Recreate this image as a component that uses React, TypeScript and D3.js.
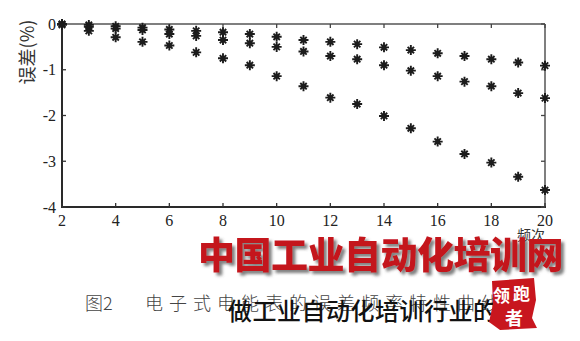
import React from "react";
import * as d3 from "d3";

const harmonics = [2, 3, 4, 5, 6, 7, 8, 9, 10, 11, 12, 13, 14, 15, 16, 17, 18, 19, 20];
const seriesA = [0, -0.02, -0.05, -0.08, -0.12, -0.15, -0.18, -0.22, -0.28, -0.35, -0.39, -0.44, -0.51, -0.57, -0.64, -0.7, -0.77, -0.84, -0.91];
const seriesB = [0, -0.06, -0.1, -0.13, -0.22, -0.26, -0.35, -0.42, -0.5, -0.6, -0.7, -0.77, -0.9, -1.02, -1.14, -1.26, -1.36, -1.51, -1.62];
const seriesC = [-0.02, -0.15, -0.29, -0.39, -0.47, -0.62, -0.75, -0.9, -1.14, -1.36, -1.61, -1.75, -2.01, -2.28, -2.57, -2.84, -3.03, -3.34, -3.63];
const xTicks = [2, 4, 6, 8, 10, 12, 14, 16, 18, 20];
const yTicks = [0, -1, -2, -3, -4];
const yLabel = "误差(%)";
const xLabel = "频次";
const caption1 = "图2";
const caption2 = "电子式电能表的误差频率特性曲线";
const watermark = "中国工业自动化培训网";
const slogan = "做工业自动化培训行业的";

const W = 580, H = 341;
const x = d3.scaleLinear().domain([2, 20]).range([62, 545]);
const y = d3.scaleLinear().domain([-4, 0]).range([207, 24]);

function Star({ cx, cy }: { cx: number; cy: number }) {
  const a = 5, b = 3.2;
  const d = `M${cx - a},${cy}L${cx + a},${cy}M${cx},${cy - a}L${cx},${cy + a}M${cx - b},${cy - b}L${cx + b},${cy + b}M${cx - b},${cy + b}L${cx + b},${cy - b}`;
  return (
    <g>
      <path d={d} stroke="#1c1c1c" strokeWidth={1.9} fill="none" />
      <circle cx={cx} cy={cy} r={2.2} fill="#1c1c1c" />
    </g>
  );
}

export default function App() {
  const all = [seriesA, seriesB, seriesC];
  const [x0, x1] = x.range();
  const [yb, yt] = y.range();
  return (
    <svg width={W} height={H} style={{ position: "absolute", left: 0, top: 0, background: "#fff" }}>
      <defs>
        <filter id="sh" x="-10%" y="-10%" width="130%" height="140%">
          <feDropShadow dx="3" dy="3" stdDeviation="1.6" floodColor="#555" floodOpacity="0.75" />
        </filter>
      </defs>
      <rect width={W} height={H} fill="#fff" />
      {/* frame */}
      <line x1={x0} x2={x1} y1={yt} y2={yt} stroke="#555" strokeWidth={1.5} />
      <line x1={x1} x2={x1} y1={yt} y2={yb} stroke="#555" strokeWidth={1.5} />
      <line x1={x0} x2={x0} y1={yt - 1} y2={yb + 1} stroke="#2a2a2a" strokeWidth={2} />
      <line x1={x0 - 1} x2={x1 + 1} y1={yb} y2={yb} stroke="#2a2a2a" strokeWidth={2} />
      {xTicks.map((t) => (
        <g key={"xt" + t}>
          <line x1={x(t)} x2={x(t)} y1={yb} y2={yb - 4} stroke="#333" strokeWidth={1.3} />
          <line x1={x(t)} x2={x(t)} y1={yt} y2={yt + 4} stroke="#444" strokeWidth={1.3} />
          <text x={x(t)} y={226} textAnchor="middle" fontFamily="Liberation Serif" fontSize={16} fill="#222">{t}</text>
        </g>
      ))}
      {yTicks.map((t) => (
        <g key={"yt" + t}>
          <line x1={x0} x2={x0 + 4} y1={y(t)} y2={y(t)} stroke="#333" strokeWidth={1.3} />
          <line x1={x1} x2={x1 - 4} y1={y(t)} y2={y(t)} stroke="#444" strokeWidth={1.3} />
          <text x={56} y={y(t)} dy="0.35em" textAnchor="end" fontFamily="Liberation Serif" fontSize={16} fill="#222">{t}</text>
        </g>
      ))}
      <text transform="translate(34,52) rotate(-90)" textAnchor="middle" fontFamily="Noto Sans CJK SC" fontSize={18} fill="#333">{yLabel}</text>
      <text x={531} y={240} textAnchor="middle" fontFamily="Noto Sans CJK SC" fontSize={14} fill="#333">{xLabel}</text>
      {all.map((s, si) =>
        s.map((v, i) => <Star key={si + "-" + i} cx={x(harmonics[i])} cy={y(v)} />)
      )}
      {/* caption */}
      <text x={85} y={310} fontFamily="Noto Sans CJK SC" fontWeight={300} fontSize={18} fill="#444">{caption1}</text>
      <text x={145} y={310} fontFamily="Noto Sans CJK SC" fontWeight={300} fontSize={18} letterSpacing={6} fill="#444">{caption2}</text>
      <text x={228} y={320} fontFamily="Noto Sans CJK SC" fontWeight={500} fontSize={24} letterSpacing={0.5} fill="#111">{slogan}</text>
      {/* seal */}
      <path d="M492,281 L534,278 L536,300 L532,318 L537,328 L500,330 L489,322 L493,304 Z" fill="#c8161e" />
      <text x={493} y={302} fontFamily="Noto Sans CJK SC" fontWeight={700} fontSize={17} fill="#fff">领</text>
      <text x={513} y={300} fontFamily="Noto Sans CJK SC" fontWeight={700} fontSize={17} fill="#fff">跑</text>
      <text x={505} y={325} fontFamily="Noto Sans CJK SC" fontWeight={700} fontSize={18} fill="#fff">者</text>
      {/* watermark */}
      <text x={198} y={269} fontFamily="Noto Sans CJK SC" fontWeight={900} fontSize={37} letterSpacing={-0.5} fill="#c4161f" filter="url(#sh)">{watermark}</text>
    </svg>
  );
}
